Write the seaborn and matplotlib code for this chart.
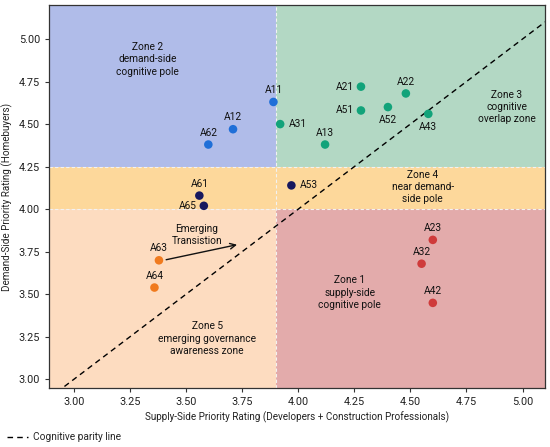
import seaborn as sns
import matplotlib.pyplot as plt
import matplotlib.patches as mpatches
import pandas as pd

# indicator codes and ratings
codes = ['A11', 'A12', 'A62',
         'A61', 'A65', 'A53',
         'A21', 'A22', 'A51', 'A52', 'A43', 'A31', 'A13',
         'A23', 'A32', 'A42',
         'A63', 'A64']
supply = [3.89, 3.71, 3.60,
          3.56, 3.58, 3.97,
          4.28, 4.48, 4.28, 4.40, 4.58, 3.92, 4.12,
          4.60, 4.55, 4.60,
          3.38, 3.36]
demand = [4.63, 4.47, 4.38,
          4.08, 4.02, 4.14,
          4.72, 4.68, 4.58, 4.60, 4.56, 4.50, 4.38,
          3.82, 3.68, 3.45,
          3.70, 3.54]
group = ['demand'] * 3 + ['near'] * 3 + ['overlap'] * 7 + ['supply'] * 3 + ['emerging'] * 2

# where each label sits relative to its dot: (dx, dy) in points, ha
label_pos = {
    'A11': (0, 5, 'center'), 'A12': (0, 5, 'center'), 'A62': (0, 5, 'center'),
    'A61': (0, 5, 'center'), 'A65': (-5, 0, 'right'), 'A53': (6, 0, 'left'),
    'A21': (-5, 0, 'right'), 'A22': (0, 5, 'center'), 'A51': (-5, 0, 'right'),
    'A52': (0, -13, 'center'), 'A43': (0, -13, 'center'), 'A31': (6, 0, 'left'),
    'A13': (0, 5, 'center'), 'A23': (0, 5, 'center'), 'A32': (0, 5, 'center'),
    'A42': (0, 5, 'center'), 'A63': (0, 5, 'center'), 'A64': (0, 5, 'center'),
}

x_split = 3.9
y_low, y_high = 4.0, 4.25

df = pd.DataFrame({'code': codes, 'supply': supply, 'demand': demand, 'group': group})

sns.set_style('ticks')
plt.rcParams['font.family'] = ['Roboto', 'DejaVu Sans']
fs = 7.3

fig = plt.figure(figsize=(5.5, 4.47), dpi=100)
ax = fig.add_axes([0.089, 0.132, 0.902, 0.857])
xmin, xmax, ymin, ymax = 2.89, 5.1, 2.95, 5.2

# background zones
zones = [
    (xmin, y_high, x_split - xmin, ymax - y_high, '#b0bce9'),   # zone 2
    (x_split, y_high, xmax - x_split, ymax - y_high, '#b3d8c4'),  # zone 3
    (xmin, y_low, xmax - xmin, y_high - y_low, '#fdd89b'),       # zone 4
    (xmin, ymin, x_split - xmin, y_low - ymin, '#fddcc0'),       # zone 5
    (x_split, ymin, xmax - x_split, y_low - ymin, '#e3abab'),    # zone 1
]
for x0, y0, w, h, c in zones:
    ax.add_patch(mpatches.Rectangle((x0, y0), w, h, facecolor=c, edgecolor='none', zorder=0))

ax.axvline(x_split, color='#f2f2f2', lw=0.8, ls=(0, (3, 2)), zorder=1)
ax.axhline(y_high, color='#f2f2f2', lw=0.8, ls=(0, (3, 2)), zorder=1)
ax.axhline(y_low, color='#f2f2f2', lw=0.8, ls=(0, (3, 2)), zorder=1)

ax.plot([xmin, xmax], [xmin, xmax], color='black', lw=1, ls=(0, (4, 3)),
        zorder=2, label='Cognitive parity line')

palette = {'demand': '#1f6fd8', 'near': '#17185e', 'overlap': '#12a37a',
           'supply': '#cf3b3b', 'emerging': '#f07a1e'}
sns.scatterplot(data=df, x='supply', y='demand', hue='group', palette=palette,
                s=38, edgecolor='none', legend=False, ax=ax, zorder=3)

for c, x, y in zip(codes, supply, demand):
    dx, dy, ha = label_pos[c]
    ax.annotate(c, (x, y), xytext=(dx, dy), textcoords='offset points',
                ha=ha, va='center' if dy == 0 else 'bottom',
                fontsize=fs, color='#111111', zorder=4)

zone_text = [
    (3.33, 4.88, 'Zone 2\ndemand-side\ncognitive pole'),
    (4.93, 4.60, 'Zone 3\ncognitive\noverlap zone'),
    (4.555, 4.13, 'Zone 4\nnear demand-\nside pole'),
    (4.23, 3.51, 'Zone 1\nsupply-side\ncognitive pole'),
    (3.595, 3.24, 'Zone 5\nemerging governance\nawareness zone'),
]
for x, y, t in zone_text:
    ax.text(x, y, t, ha='center', va='center', fontsize=fs, color='#111111',
            linespacing=1.3, zorder=4)

ax.annotate('', xy=(3.74, 3.795), xytext=(3.40, 3.70),
            arrowprops=dict(arrowstyle='->', color='#111111', lw=1), zorder=4)
ax.text(3.55, 3.85, 'Emerging\nTransistion', ha='center', va='center',
        fontsize=fs, color='#111111', linespacing=1.2, zorder=4)

ax.set_xlim(xmin, xmax)
ax.set_ylim(ymin, ymax)
ax.set_xticks([3.0, 3.25, 3.5, 3.75, 4.0, 4.25, 4.5, 4.75, 5.0])
ax.set_yticks([3.0, 3.25, 3.5, 3.75, 4.0, 4.25, 4.5, 4.75, 5.0])
ax.xaxis.set_major_formatter(plt.FormatStrFormatter('%.2f'))
ax.yaxis.set_major_formatter(plt.FormatStrFormatter('%.2f'))
ax.tick_params(labelsize=7.8, length=3, width=0.8, color='#333333', labelcolor='#222222')
for sp in ax.spines.values():
    sp.set_color('#333333')
    sp.set_linewidth(0.9)
    sp.set_visible(True)
ax.set_xlabel('Supply-Side Priority Rating (Developers + Construction Professionals)',
              fontsize=7.1, color='#222222', labelpad=3)
ax.set_ylabel('Demand-Side Priority Rating (Homebuyers)', fontsize=7.1,
              color='#222222', labelpad=4)

fig.legend(loc='lower left', bbox_to_anchor=(0.0, -0.005), frameon=False,
           fontsize=fs, handlelength=2.1, handletextpad=0.5, borderaxespad=0.3)

fig.savefig('out.png', dpi=100)
